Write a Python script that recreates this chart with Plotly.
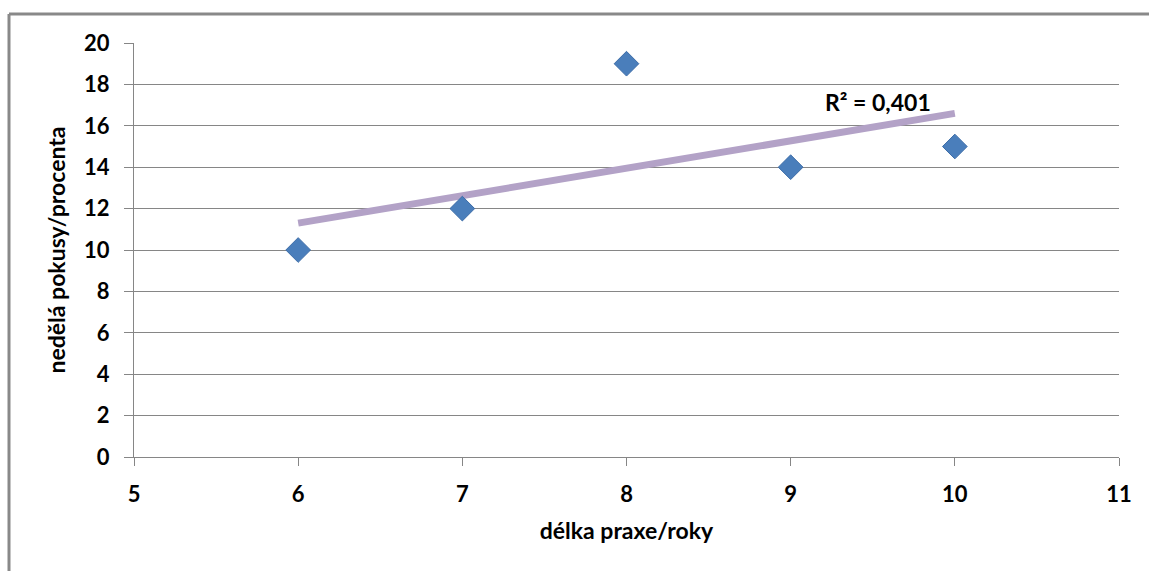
import plotly.graph_objects as go

# Years of practice vs. share of people who skip the experiments
praxe_roky = [6, 7, 8, 9, 10]
nedela_procenta = [10, 12, 19, 14, 15]

# Linear trend line (end points) and its coefficient of determination
trend_x = [6, 10]
trend_y = [11.3, 16.6]
r_squared = 0.401

x_ticks = [5, 6, 7, 8, 9, 10, 11]
y_ticks = [0, 2, 4, 6, 8, 10, 12, 14, 16, 18, 20]

W, H = 1149, 571
L, R, T, B = 134, 30, 43, 114
pw, ph = W - L - R, H - T - B

FONT = "Lato"
GRID = "#868686"

fig = go.Figure()

fig.add_trace(go.Scatter(
    x=trend_x, y=trend_y, mode="lines",
    line=dict(color="#b3a2c7", width=7),
    hoverinfo="skip", showlegend=False,
))

fig.add_trace(go.Scatter(
    x=praxe_roky, y=nedela_procenta, mode="markers",
    marker=dict(symbol="diamond", size=19, color="#4a7ebb",
                line=dict(color="#3d6da8", width=1)),
    showlegend=False,
))

fig.add_annotation(
    x=trend_x[-1] - 0.47, y=trend_y[-1] - 0.22, xref="x", yref="y",
    text="R² = " + f"{r_squared:.3f}".replace(".", ","),
    showarrow=False, yanchor="bottom", xanchor="center",
    font=dict(family=FONT, size=23, color="#000000", weight="bold"),
)

# Outer frame: only the top and left edges are visible
fx0 = (9 - L) / pw
fx1 = (W - L) / pw
fy_top = (H - B - 14) / ph
fy_bot = (H - B - H) / ph
fig.add_shape(type="line", xref="paper", yref="paper",
              x0=fx0, x1=fx1, y0=fy_top, y1=fy_top,
              line=dict(color="#898989", width=3))
fig.add_shape(type="line", xref="paper", yref="paper",
              x0=fx0, x1=fx0, y0=fy_top, y1=fy_bot,
              line=dict(color="#898989", width=3))

fig.update_layout(
    width=W, height=H,
    margin=dict(l=L, r=R, t=T, b=B, pad=0),
    paper_bgcolor="white", plot_bgcolor="white",
    font=dict(family=FONT, size=22, color="#000000"),
    xaxis=dict(
        range=[5, 11], tickvals=x_ticks, ticktext=[str(v) for v in x_ticks],
        showgrid=False, zeroline=False,
        showline=True, linecolor=GRID, linewidth=1,
        ticks="outside", ticklen=8, tickcolor=GRID, tickwidth=1,
        ticklabelstandoff=10,
        tickfont=dict(family=FONT, size=22, weight="bold"),
        title=dict(text="délka praxe/roky", standoff=16,
                   font=dict(family=FONT, size=23, weight="bold")),
    ),
    yaxis=dict(
        range=[0, 20], tickvals=y_ticks, ticktext=[str(v) for v in y_ticks],
        showgrid=True, gridcolor=GRID, gridwidth=1,
        zeroline=False,
        showline=True, linecolor=GRID, linewidth=1,
        ticks="outside", ticklen=9, tickcolor=GRID, tickwidth=1,
        ticklabelstandoff=10,
        tickfont=dict(family=FONT, size=22, weight="bold"),
        title=dict(text="nedělá pokusy/procenta", standoff=12,
                   font=dict(family=FONT, size=23, weight="bold")),
    ),
)

fig.write_html("out.html")
